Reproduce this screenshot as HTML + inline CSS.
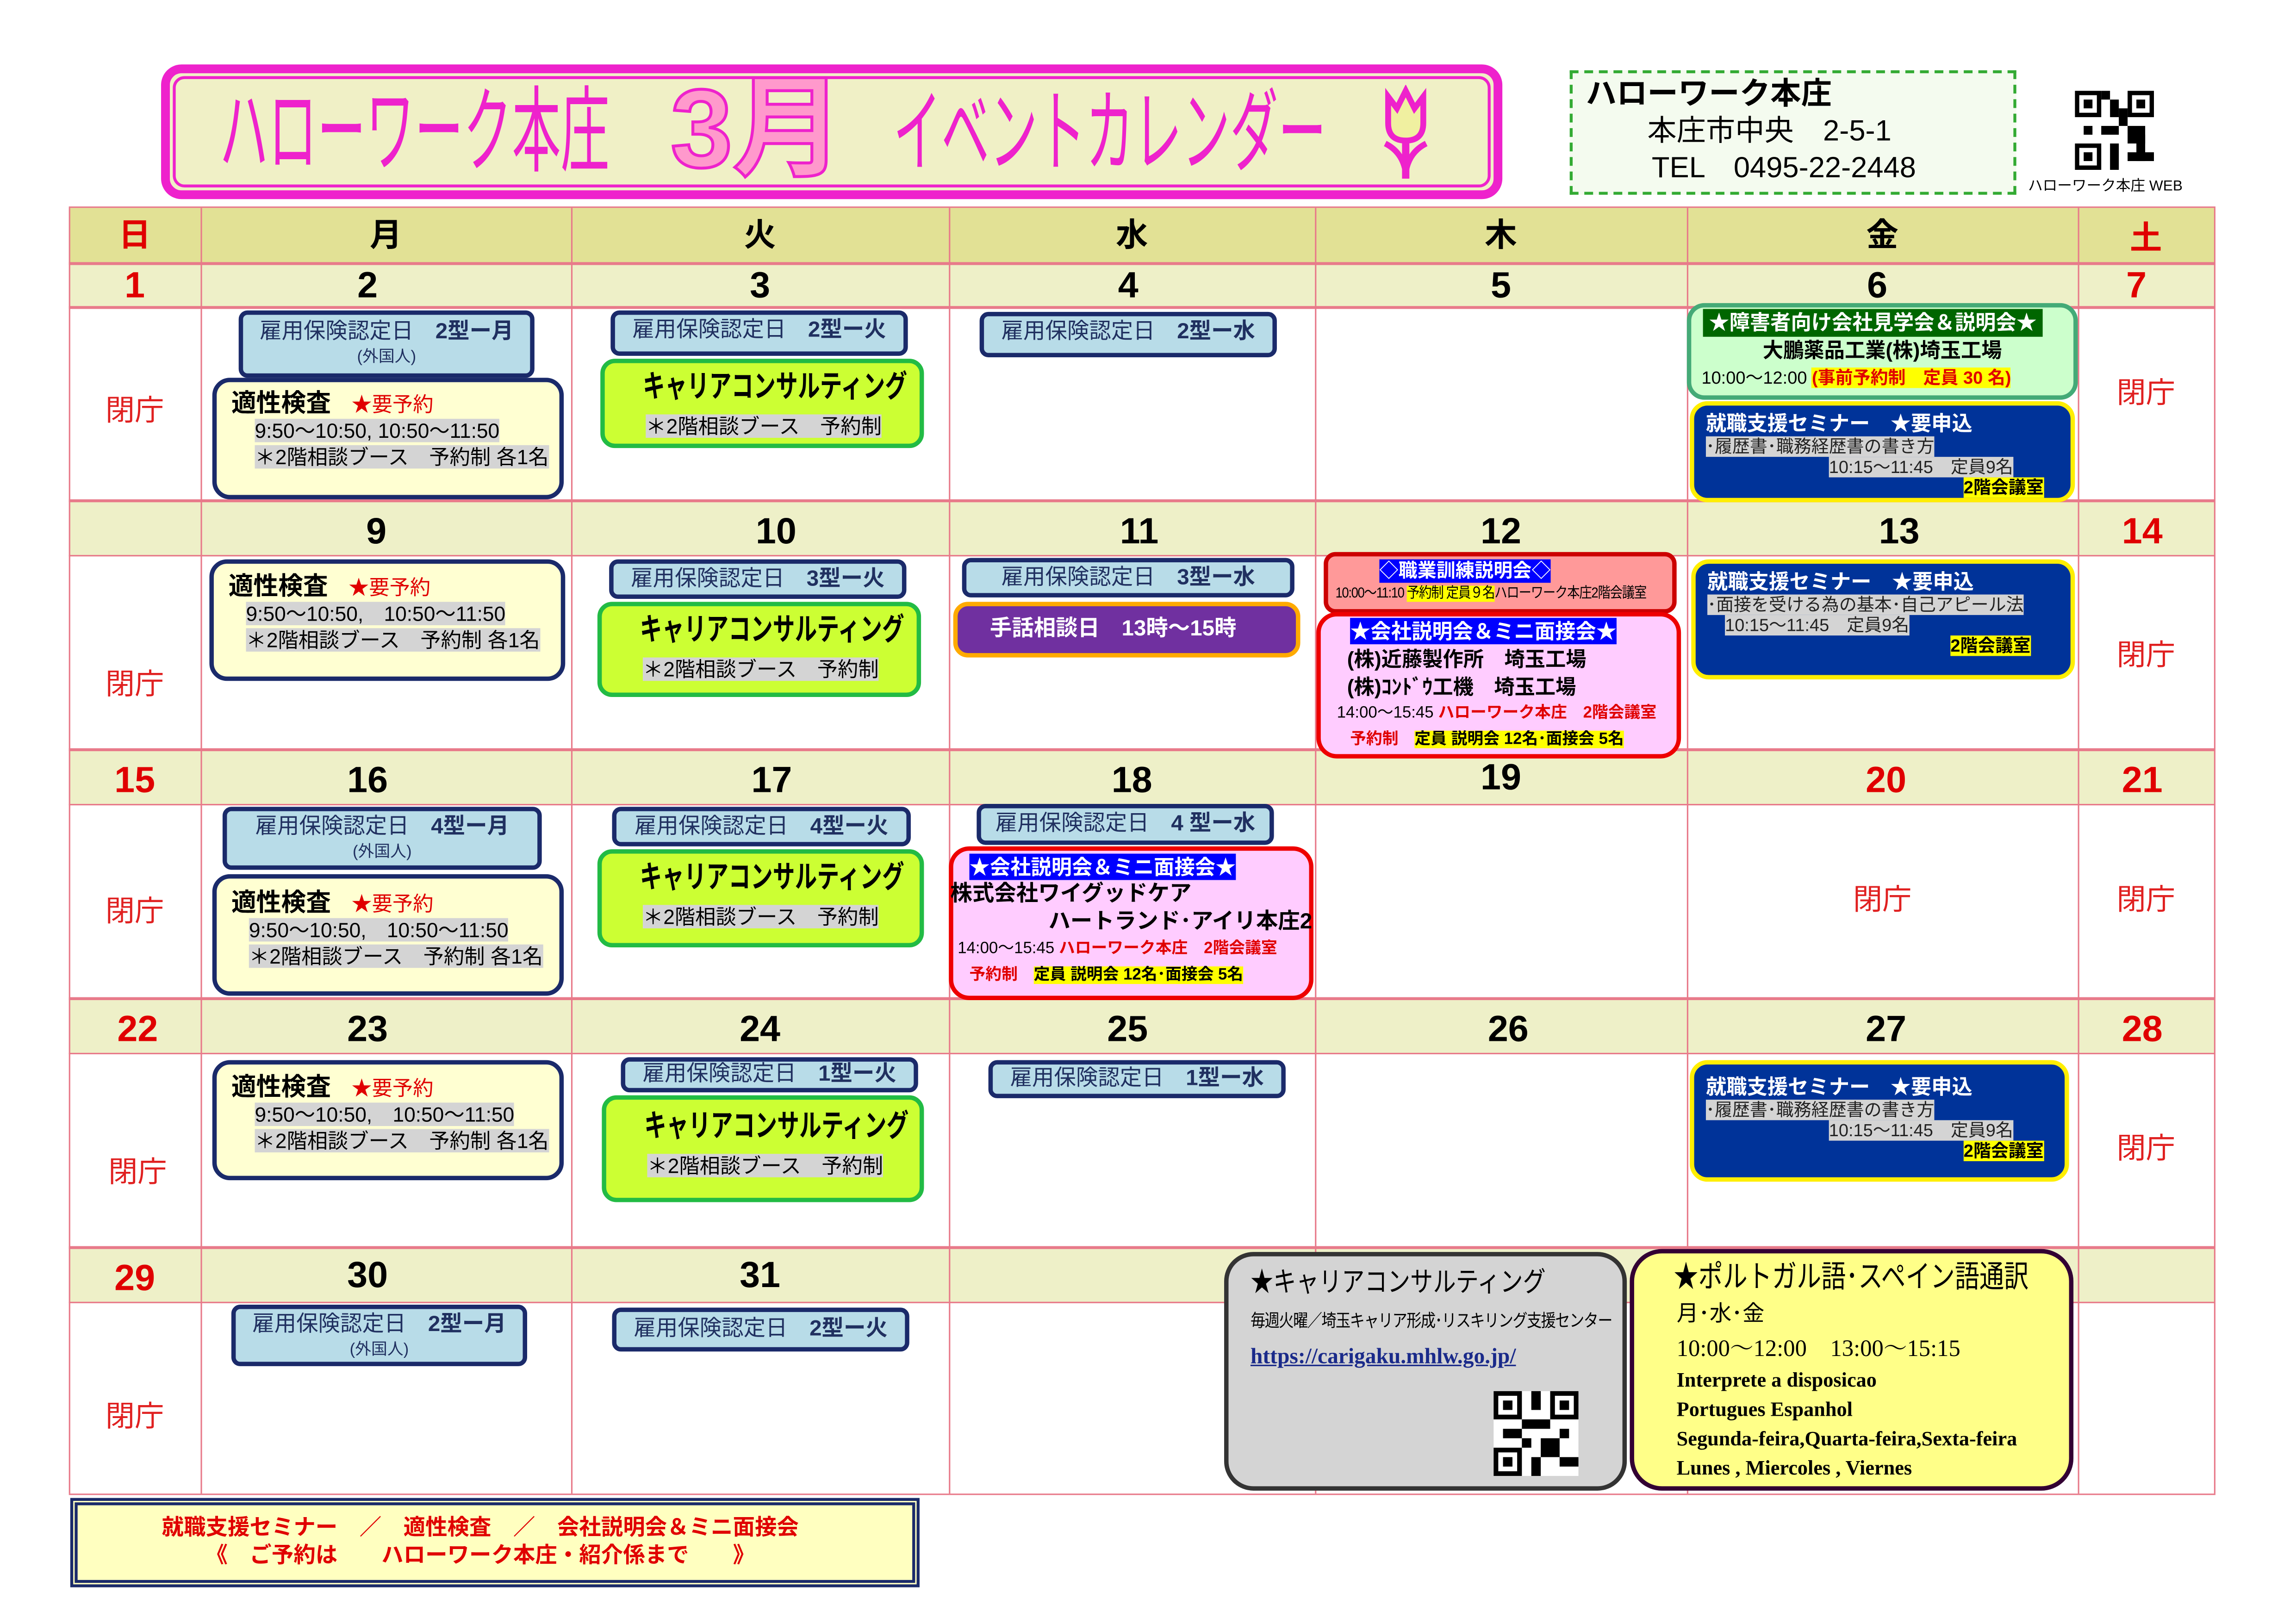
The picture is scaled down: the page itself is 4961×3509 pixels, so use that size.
<!DOCTYPE html>
<html><head><meta charset="utf-8"><style>
html,body{margin:0;padding:0;background:#fff;}
body{width:4961px;height:3508px;overflow:hidden;position:relative;}
#s{position:absolute;left:0;top:0;width:1568px;height:1109px;transform:scale(3.1639);transform-origin:0 0;font-family:"Liberation Sans","Noto Sans CJK JP",sans-serif;}
#s div{position:absolute;box-sizing:border-box;}
.t{white-space:nowrap;}
.hd{background:#e2e195;}
.dt{background:#eef0c8;}
.vl{width:1px;background:#e87a8a;}
.hl{height:2px;background:#e87a8a;}
.dn{font-size:25px;font-weight:bold;text-align:center;line-height:30px;color:#000;}
.red{color:#e00000;}
.cl{font-size:20px;color:#e02020;text-align:center;}
.ko{background:#b8dce8;border:3px solid #1a2a6a;border-radius:6px;color:#203060;font-size:15px;text-align:center;line-height:22px;}
.ko small{display:block;font-size:11px;line-height:12px;}
.tk{background:#ffffd2;border:3px solid #1a2a6a;border-radius:12px;font-size:14px;line-height:18px;padding:6px 0 0 10px;white-space:nowrap;}
.tk b{font-size:17px;}
.g{background:#d4d4d4;}
.ca{background:#ccff33;border:3px solid #22bb44;border-radius:10px;padding:2px 0 0 28px;font-size:14px;line-height:22px;white-space:nowrap;}
.ca b{font-size:21px;line-height:30px;font-weight:bold;display:block;margin-left:-2px;transform:scaleX(0.72);transform-origin:0 0;}
.se{background:#003399;border:3px solid #ffee00;border-radius:12px;color:#fff;font-size:12px;line-height:14px;padding:3px 0 0 8px;white-space:nowrap;}
.se b{font-size:14px;line-height:18px;}
.se .g{color:#222;}
.yl{background:#ffff00;color:#000;}
</style></head><body><div id="s">

<!-- title -->
<div style="left:110px;top:44px;width:916px;height:92px;border:6px solid #ee22cc;border-radius:14px;background:#f0f0c6;"></div>
<div style="left:118px;top:52px;width:900px;height:76px;border:2px solid #ee22cc;border-radius:8px;"></div>
<div class="t" style="left:150px;top:52px;font-size:64px;line-height:76px;color:#ee22cc;transform:scaleX(0.52);transform-origin:0 0;">ハローワーク本庄</div>
<div class="t" style="left:458px;top:46px;font-size:76px;line-height:86px;font-weight:bold;color:#ff99cc;-webkit-text-stroke:2px #ee22cc;">3月</div>
<div class="t" style="left:610px;top:56px;font-size:62px;line-height:72px;color:#ee22cc;transform:scaleX(0.53);transform-origin:0 0;">イベントカレンダー</div>
<svg style="position:absolute;left:940px;top:58px" width="40" height="66" viewBox="0 0 40 66"><path d="M8 8 L14 16 L20 4 L26 16 L32 8 L32 26 Q32 38 20 38 Q8 38 8 26 Z" fill="#f0f0a0" stroke="#ee22cc" stroke-width="4"/><path d="M20 38 L20 64" stroke="#ee22cc" stroke-width="5"/><path d="M6 40 Q18 46 20 60 M34 40 Q22 46 20 60" stroke="#ee22cc" stroke-width="4" fill="none"/></svg>

<!-- info -->
<div style="left:1072px;top:48px;width:305px;height:85px;border:2px dashed #33aa33;background:#f4fbef;"></div>
<div class="t" style="left:1083px;top:53px;font-size:21px;line-height:24px;font-weight:bold;">ハローワーク本庄</div>
<div class="t" style="left:1125px;top:78px;font-size:20px;line-height:24px;">本庄市中央　2-5-1</div>
<div class="t" style="left:1128px;top:103px;font-size:20px;line-height:24px;">TEL　0495-22-2448</div>
<svg style="position:absolute;left:1417px;top:62px" width="54" height="54" viewBox="0 0 9 9"><rect width="9" height="9" fill="#fff"/><g fill="#000"><rect x="0" y="0" width="3" height="3"/><rect x="6" y="0" width="3" height="3"/><rect x="0" y="6" width="3" height="3"/><rect x="4" y="1" width="1" height="2"/><rect x="3" y="4" width="2" height="1"/><rect x="6" y="4" width="2" height="2"/><rect x="4" y="6" width="1" height="3"/><rect x="6" y="7" width="3" height="1"/><rect x="1" y="4" width="1" height="1"/><rect x="3" y="0" width="1" height="1"/><rect x="5" y="2" width="1" height="2"/><rect x="7" y="5" width="1" height="3"/></g><g fill="#fff"><rect x=".5" y=".5" width="2" height="2"/><rect x="6.5" y=".5" width="2" height="2"/><rect x=".5" y="6.5" width="2" height="2"/></g><g fill="#000"><rect x="1" y="1" width="1" height="1"/><rect x="7" y="1" width="1" height="1"/><rect x="1" y="7" width="1" height="1"/></g></svg>
<div class="t" style="left:1385px;top:122px;font-size:10px;line-height:12px;">ハローワーク本庄 WEB</div>

<!-- grid backgrounds -->
<div class="hd" style="left:47px;top:142px;width:1466px;height:38px;"></div>
<div class="dt" style="left:47px;top:180px;width:1466px;height:30px;"></div>
<div class="dt" style="left:47px;top:342px;width:1466px;height:38px;"></div>
<div class="dt" style="left:47px;top:512px;width:1466px;height:38px;"></div>
<div class="dt" style="left:47px;top:682px;width:1466px;height:38px;"></div>
<div class="dt" style="left:47px;top:852px;width:1466px;height:38px;"></div>
<!-- lines -->
<div class="hl" style="left:47px;top:141px;width:1466px;height:1px;"></div>
<div class="hl" style="left:47px;top:179px;width:1466px;"></div>
<div class="hl" style="left:47px;top:209px;width:1466px;"></div>
<div class="hl" style="left:47px;top:341px;width:1466px;"></div>
<div class="hl" style="left:47px;top:379px;width:1466px;height:1px;"></div>
<div class="hl" style="left:47px;top:511px;width:1466px;"></div>
<div class="hl" style="left:47px;top:549px;width:1466px;height:1px;"></div>
<div class="hl" style="left:47px;top:681px;width:1466px;"></div>
<div class="hl" style="left:47px;top:719px;width:1466px;height:1px;"></div>
<div class="hl" style="left:47px;top:851px;width:1466px;"></div>
<div class="hl" style="left:47px;top:889px;width:1466px;height:1px;"></div>
<div class="hl" style="left:47px;top:1020px;width:1466px;height:1px;"></div>
<div class="vl" style="left:47px;top:142px;height:878px;"></div>
<div class="vl" style="left:137px;top:142px;height:878px;"></div>
<div class="vl" style="left:390px;top:142px;height:878px;"></div>
<div class="vl" style="left:648px;top:142px;height:878px;"></div>
<div class="vl" style="left:898px;top:142px;height:878px;"></div>
<div class="vl" style="left:1152px;top:142px;height:878px;"></div>
<div class="vl" style="left:1419px;top:142px;height:878px;"></div>
<div class="vl" style="left:1512px;top:142px;height:878px;"></div>

<!-- header -->
<div class="dn red" style="left:47px;top:146px;width:90px;font-size:22px;">日</div>
<div class="dn" style="left:137px;top:146px;width:253px;font-size:22px;">月</div>
<div class="dn" style="left:390px;top:146px;width:258px;font-size:22px;">火</div>
<div class="dn" style="left:648px;top:146px;width:250px;font-size:22px;">水</div>
<div class="dn" style="left:898px;top:146px;width:254px;font-size:22px;">木</div>
<div class="dn" style="left:1152px;top:146px;width:267px;font-size:22px;">金</div>
<div class="dn red" style="left:1419px;top:148px;width:93px;font-size:22px;">土</div>

<!-- dates -->
<div class="dn red" style="left:47px;top:180px;width:90px;">1</div>
<div class="dn" style="left:137px;top:180px;width:228px;">2</div>
<div class="dn" style="left:390px;top:180px;width:258px;">3</div>
<div class="dn" style="left:648px;top:180px;width:245px;">4</div>
<div class="dn" style="left:898px;top:180px;width:254px;">5</div>
<div class="dn" style="left:1152px;top:180px;width:260px;">6</div>
<div class="dn red" style="left:1419px;top:180px;width:80px;">7</div>

<div class="dn" style="left:137px;top:348px;width:240px;">9</div>
<div class="dn" style="left:390px;top:348px;width:280px;">10</div>
<div class="dn" style="left:648px;top:348px;width:260px;">11</div>
<div class="dn" style="left:898px;top:348px;width:254px;">12</div>
<div class="dn" style="left:1152px;top:348px;width:290px;">13</div>
<div class="dn red" style="left:1419px;top:348px;width:88px;">14</div>

<div class="dn red" style="left:47px;top:518px;width:90px;">15</div>
<div class="dn" style="left:137px;top:518px;width:228px;">16</div>
<div class="dn" style="left:390px;top:518px;width:274px;">17</div>
<div class="dn" style="left:648px;top:518px;width:250px;">18</div>
<div class="dn" style="left:898px;top:516px;width:254px;">19</div>
<div class="dn red" style="left:1152px;top:518px;width:272px;">20</div>
<div class="dn red" style="left:1419px;top:518px;width:88px;">21</div>

<div class="dn red" style="left:47px;top:688px;width:94px;">22</div>
<div class="dn" style="left:137px;top:688px;width:228px;">23</div>
<div class="dn" style="left:390px;top:688px;width:258px;">24</div>
<div class="dn" style="left:648px;top:688px;width:244px;">25</div>
<div class="dn" style="left:898px;top:688px;width:264px;">26</div>
<div class="dn" style="left:1152px;top:688px;width:272px;">27</div>
<div class="dn red" style="left:1419px;top:688px;width:88px;">28</div>

<div class="dn red" style="left:47px;top:858px;width:90px;">29</div>
<div class="dn" style="left:137px;top:856px;width:228px;">30</div>
<div class="dn" style="left:390px;top:856px;width:258px;">31</div>

<!-- closed -->
<div class="cl" style="left:47px;top:264px;width:90px;">閉庁</div>
<div class="cl" style="left:1419px;top:252px;width:93px;">閉庁</div>
<div class="cl" style="left:47px;top:451px;width:90px;">閉庁</div>
<div class="cl" style="left:1419px;top:431px;width:93px;">閉庁</div>
<div class="cl" style="left:47px;top:606px;width:90px;">閉庁</div>
<div class="cl" style="left:1152px;top:598px;width:267px;">閉庁</div>
<div class="cl" style="left:1419px;top:598px;width:93px;">閉庁</div>
<div class="cl" style="left:47px;top:784px;width:94px;">閉庁</div>
<div class="cl" style="left:1419px;top:768px;width:93px;">閉庁</div>
<div class="cl" style="left:47px;top:951px;width:90px;">閉庁</div>

<!-- week1 -->
<div class="ko" style="left:163px;top:212px;width:202px;height:46px;padding-top:1px;">雇用保険認定日　<b>2型ー月</b><small>(外国人)</small></div>
<div class="tk" style="left:145px;top:258px;width:240px;height:83px;"><b>適性検査</b>　<span class="red">★要予約</span><br><span class="g" style="margin-left:16px;">9:50～10:50, 10:50～11:50</span><br><span class="g" style="margin-left:16px;">＊2階相談ブース　予約制 各1名</span></div>
<div class="ko" style="left:417px;top:212px;width:203px;height:31px;">雇用保険認定日　<b>2型ー火</b></div>
<div class="ca" style="left:410px;top:245px;width:221px;height:61px;"><b>キャリアコンサルティング</b><span class="g">＊2階相談ブース　予約制</span></div>
<div class="ko" style="left:669px;top:213px;width:203px;height:31px;">雇用保険認定日　<b>2型ー水</b></div>
<div style="left:1152px;top:207px;width:267px;height:66px;background:#ccffcc;border:3px solid #44aa77;border-radius:12px;"></div>
<div class="t" style="left:1163px;top:211px;width:232px;height:19px;background:#006600;color:#fff;font-size:14px;line-height:19px;font-weight:bold;text-align:center;">★障害者向け会社見学会＆説明会★</div>
<div class="t" style="left:1152px;top:230px;width:267px;text-align:center;font-size:14px;line-height:18px;font-weight:bold;">大鵬薬品工業(株)埼玉工場</div>
<div class="t" style="left:1162px;top:249px;font-size:12px;line-height:18px;">10:00～12:00 <span style="background:#ffff00;color:#e00000;font-weight:bold;">(事前予約制　定員 30 名)</span></div>
<div class="se" style="left:1154px;top:274px;width:263px;height:69px;"><b>就職支援セミナー　★要申込</b><br><span class="g">･履歴書･職務経歴書の書き方</span><br><span class="g" style="margin-left:84px;">10:15～11:45　定員9名</span><br><span class="yl" style="margin-left:176px;font-weight:bold;">2階会議室</span></div>

<!-- week2 -->
<div class="tk" style="left:143px;top:382px;width:243px;height:83px;padding-top:7px;"><b>適性検査</b>　<span class="red">★要予約</span><br><span class="g" style="margin-left:12px;">9:50～10:50,　10:50～11:50</span><br><span class="g" style="margin-left:12px;">＊2階相談ブース　予約制 各1名</span></div>
<div class="ko" style="left:416px;top:382px;width:203px;height:27px;line-height:21px;">雇用保険認定日　<b>3型ー火</b></div>
<div class="ca" style="left:408px;top:411px;width:221px;height:65px;"><b>キャリアコンサルティング</b><span class="g">＊2階相談ブース　予約制</span></div>
<div class="ko" style="left:657px;top:381px;width:227px;height:27px;line-height:21px;">雇用保険認定日　<b>3型ー水</b></div>
<div class="t" style="left:651px;top:411px;width:237px;height:38px;background:#7030a0;border:3px solid #ffaa00;border-radius:10px;color:#fff;font-size:15px;line-height:32px;padding-left:22px;font-weight:bold;">手話相談日　13時～15時</div>
<div style="left:904px;top:377px;width:241px;height:42px;background:#ff9999;border:3px solid #cc0000;border-radius:8px;"></div>
<div class="t" style="left:942px;top:382px;background:#0000ff;color:#fff;font-size:13px;line-height:16px;font-weight:bold;">◇職業訓練説明会◇</div>
<div class="t" style="left:912px;top:399px;font-size:10px;line-height:14px;letter-spacing:-0.5px;transform:scaleX(0.87);transform-origin:0 0;">10:00～11:10 <span class="yl">予約制 定員９名</span>ハローワーク本庄2階会議室</div>
<div style="left:899px;top:418px;width:249px;height:100px;background:#ffccff;border:3px solid #ee0000;border-radius:14px;"></div>
<div class="t" style="left:922px;top:422px;background:#0000ff;color:#fff;font-size:14px;line-height:18px;font-weight:bold;">★会社説明会＆ミニ面接会★</div>
<div class="t" style="left:920px;top:441px;font-size:14px;line-height:19px;font-weight:bold;">(株)近藤製作所　埼玉工場<br>(株)ｺﾝﾄﾞｳ工機　埼玉工場</div>
<div class="t" style="left:913px;top:479px;font-size:11px;line-height:16px;">14:00～15:45 <span class="red" style="font-weight:bold;">ハローワーク本庄　2階会議室</span></div>
<div class="t" style="left:922px;top:497px;font-size:11px;line-height:16px;font-weight:bold;"><span class="red">予約制</span>　<span class="yl">定員 説明会 12名･面接会 5名</span></div>
<div class="se" style="left:1155px;top:382px;width:262px;height:82px;"><b>就職支援セミナー　★要申込</b><br><span class="g">･面接を受ける為の基本･自己アピール法</span><br><span class="g" style="margin-left:12px;">10:15～11:45　定員9名</span><br><span class="yl" style="margin-left:166px;font-weight:bold;">2階会議室</span></div>

<!-- week3 -->
<div class="ko" style="left:152px;top:551px;width:218px;height:43px;padding-top:0;">雇用保険認定日　<b>4型ー月</b><small>(外国人)</small></div>
<div class="tk" style="left:145px;top:597px;width:240px;height:83px;padding-top:8px;"><b>適性検査</b>　<span class="red">★要予約</span><br><span class="g" style="margin-left:12px;">9:50～10:50,　10:50～11:50</span><br><span class="g" style="margin-left:12px;">＊2階相談ブース　予約制 各1名</span></div>
<div class="ko" style="left:418px;top:551px;width:204px;height:27px;line-height:21px;">雇用保険認定日　<b>4型ー火</b></div>
<div class="ca" style="left:408px;top:580px;width:223px;height:67px;"><b>キャリアコンサルティング</b><span class="g">＊2階相談ブース　予約制</span></div>
<div class="ko" style="left:667px;top:549px;width:203px;height:28px;line-height:22px;">雇用保険認定日　<b>4 型ー水</b></div>
<div style="left:648px;top:578px;width:249px;height:105px;background:#ffccff;border:3px solid #ee0000;border-radius:14px;"></div>
<div class="t" style="left:662px;top:583px;background:#0000ff;color:#fff;font-size:14px;line-height:18px;font-weight:bold;">★会社説明会＆ミニ面接会★</div>
<div class="t" style="left:649px;top:601px;font-size:15px;line-height:19px;font-weight:bold;">株式会社ワイグッドケア</div>
<div class="t" style="left:716px;top:620px;font-size:15px;line-height:19px;font-weight:bold;">ハートランド･アイリ本庄2</div>
<div class="t" style="left:654px;top:640px;font-size:11px;line-height:16px;">14:00～15:45 <span class="red" style="font-weight:bold;">ハローワーク本庄　2階会議室</span></div>
<div class="t" style="left:662px;top:658px;font-size:11px;line-height:16px;font-weight:bold;"><span class="red">予約制</span>　<span class="yl">定員 説明会 12名･面接会 5名</span></div>

<!-- week4 -->
<div class="tk" style="left:145px;top:724px;width:240px;height:82px;padding-top:7px;"><b>適性検査</b>　<span class="red">★要予約</span><br><span class="g" style="margin-left:16px;">9:50～10:50,　10:50～11:50</span><br><span class="g" style="margin-left:16px;">＊2階相談ブース　予約制 各1名</span></div>
<div class="ko" style="left:424px;top:722px;width:203px;height:24px;line-height:18px;">雇用保険認定日　<b>1型ー火</b></div>
<div class="ca" style="left:411px;top:748px;width:220px;height:73px;padding-top:4px;"><b>キャリアコンサルティング</b><span class="g">＊2階相談ブース　予約制</span></div>
<div class="ko" style="left:675px;top:724px;width:203px;height:26px;line-height:20px;">雇用保険認定日　<b>1型ー水</b></div>
<div class="se" style="left:1154px;top:724px;width:259px;height:83px;padding-top:6px;"><b>就職支援セミナー　★要申込</b><br><span class="g">･履歴書･職務経歴書の書き方</span><br><span class="g" style="margin-left:84px;">10:15～11:45　定員9名</span><br><span class="yl" style="margin-left:176px;font-weight:bold;">2階会議室</span></div>

<!-- week5 -->
<div class="ko" style="left:158px;top:891px;width:202px;height:42px;padding-top:0;">雇用保険認定日　<b>2型ー月</b><small>(外国人)</small></div>
<div class="ko" style="left:418px;top:893px;width:203px;height:30px;line-height:24px;">雇用保険認定日　<b>2型ー火</b></div>
<div style="left:836px;top:855px;width:275px;height:163px;background:#d4d4d4;border:3px solid #333;border-radius:20px;"></div>
<div class="t" style="left:854px;top:864px;font-size:19px;line-height:26px;transform:scaleX(0.82);transform-origin:0 0;">★キャリアコンサルティング</div>
<div class="t" style="left:854px;top:893px;font-size:12px;line-height:18px;letter-spacing:-0.6px;transform:scaleX(0.85);transform-origin:0 0;">毎週火曜／埼玉キャリア形成･リスキリング支援センター</div>
<div class="t" style="left:854px;top:916px;font-size:15px;line-height:22px;font-weight:bold;color:#1a2a8a;text-decoration:underline;font-family:'Liberation Serif',serif;">https://carigaku.mhlw.go.jp/</div>
<svg style="position:absolute;left:1020px;top:950px" width="58" height="58" viewBox="0 0 9 9"><rect width="9" height="9" fill="#fff"/><g fill="#000"><rect x="0" y="0" width="3" height="3"/><rect x="6" y="0" width="3" height="3"/><rect x="0" y="6" width="3" height="3"/><rect x="4" y="0" width="1" height="2"/><rect x="3" y="3" width="3" height="1"/><rect x="5" y="5" width="2" height="2"/><rect x="4" y="7" width="1" height="2"/><rect x="7" y="7" width="2" height="1"/><rect x="1" y="4" width="2" height="1"/><rect x="3" y="5" width="1" height="1"/><rect x="7" y="4" width="1" height="1"/></g><g fill="#fff"><rect x=".5" y=".5" width="2" height="2"/><rect x="6.5" y=".5" width="2" height="2"/><rect x=".5" y="6.5" width="2" height="2"/></g><g fill="#000"><rect x="1" y="1" width="1" height="1"/><rect x="7" y="1" width="1" height="1"/><rect x="1" y="7" width="1" height="1"/></g></svg>
<div style="left:1113px;top:853px;width:303px;height:165px;background:#ffff88;border:3px solid #330033;border-radius:22px;"></div>
<div class="t" style="left:1143px;top:859px;font-size:21px;line-height:28px;transform:scaleX(0.8);transform-origin:0 0;">★ポルトガル語･スペイン語通訳</div>
<div class="t" style="left:1145px;top:888px;font-size:15px;line-height:20px;">月･水･金</div>
<div class="t" style="left:1145px;top:911px;font-size:16px;line-height:22px;font-family:'Liberation Serif','Noto Serif CJK SC',serif;">10:00～12:00　13:00～15:15</div>
<div class="t" style="left:1145px;top:934px;font-size:14px;line-height:20px;font-weight:bold;font-family:'Liberation Serif',serif;">Interprete a disposicao<br>Portugues Espanhol<br>Segunda-feira,Quarta-feira,Sexta-feira<br>Lunes , Miercoles , Viernes</div>

<!-- bottom note -->
<div style="left:48px;top:1023px;width:580px;height:61px;background:#ffffc0;border:5px double #1a2a6a;"></div>
<div class="t" style="left:48px;top:1034px;width:560px;text-align:center;font-size:15px;line-height:19px;color:#e00000;font-weight:bold;">就職支援セミナー　／　適性検査　／　会社説明会＆ミニ面接会<br>《　ご予約は　　ハローワーク本庄・紹介係まで　　》</div>

</div></body></html>
